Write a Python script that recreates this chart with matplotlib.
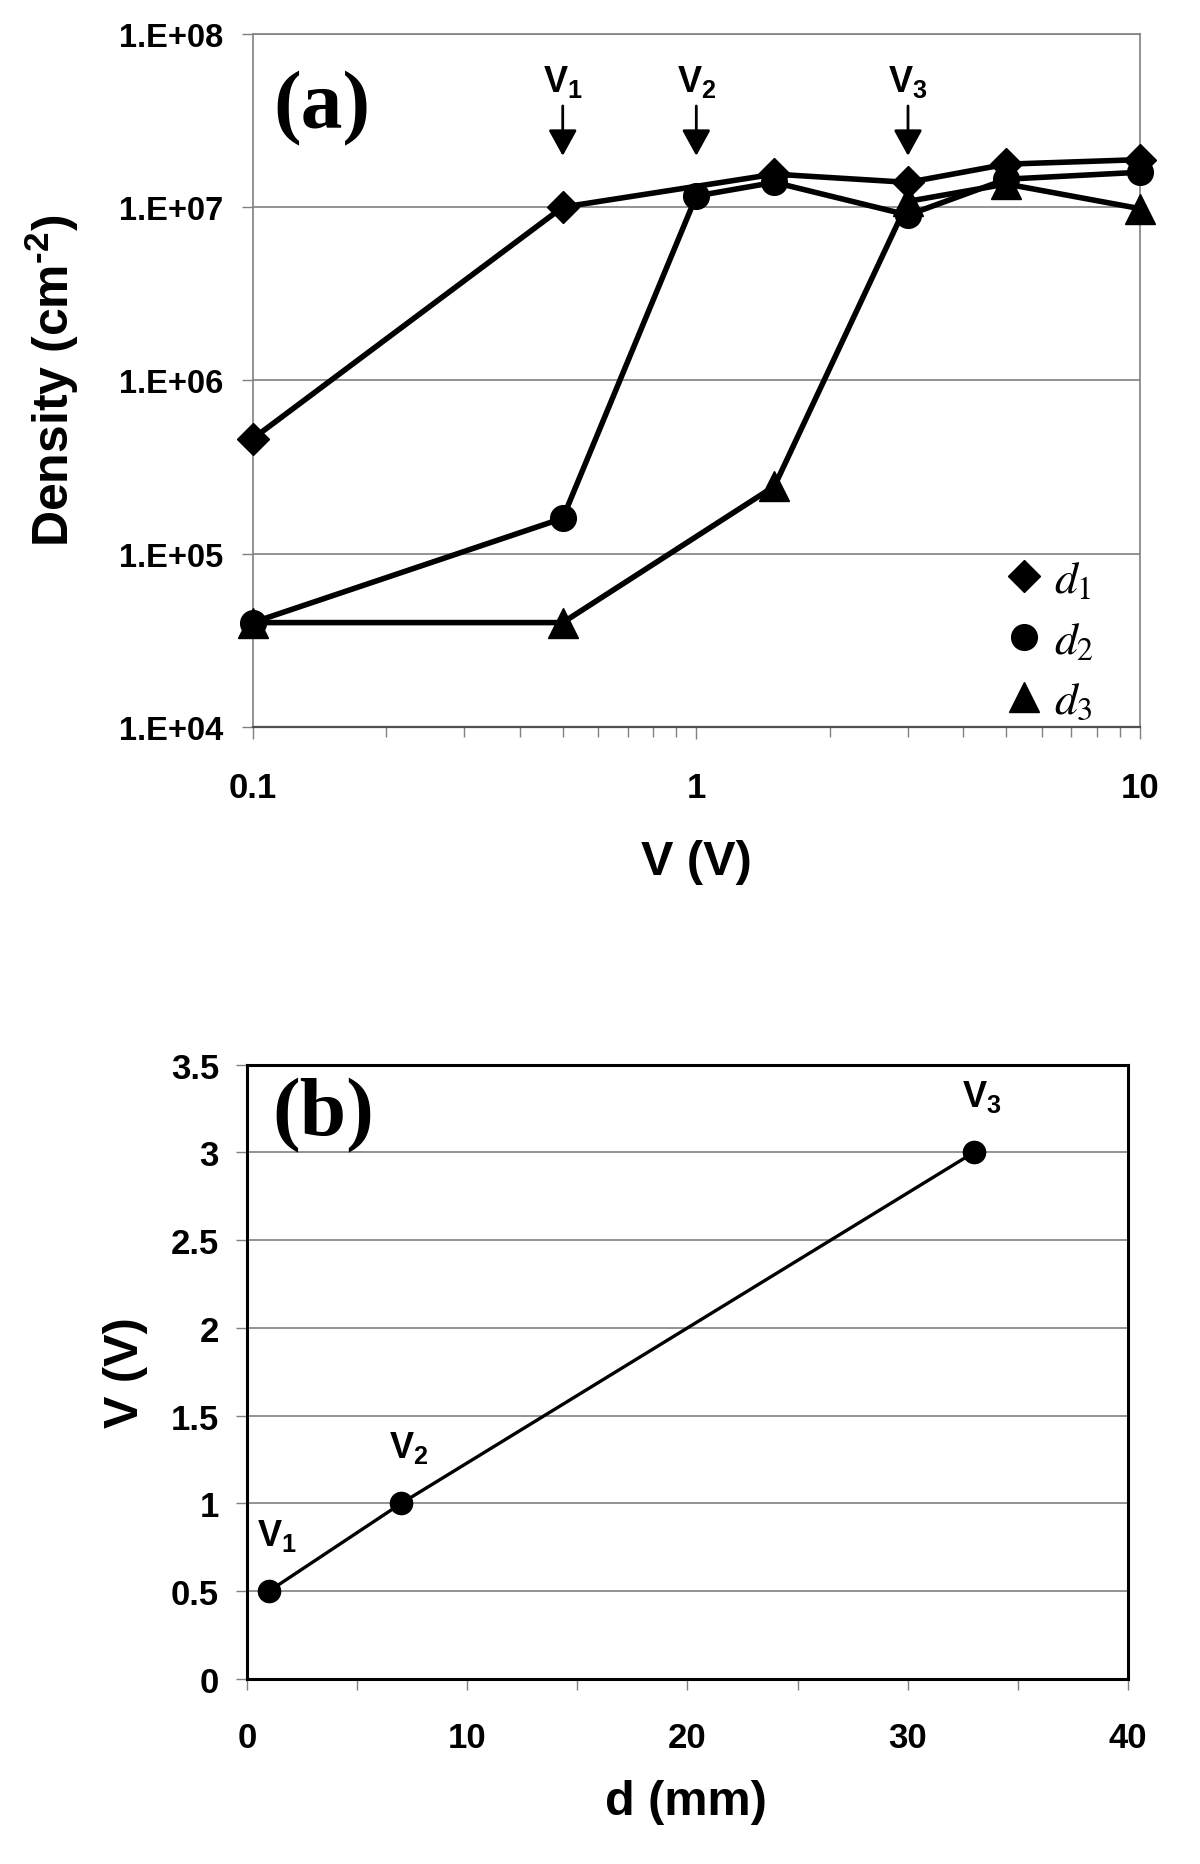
import numpy as np
import matplotlib
matplotlib.use('Agg')
import matplotlib.pyplot as plt
import matplotlib.ticker as mt
from matplotlib.lines import Line2D
from matplotlib.font_manager import FontProperties

plt.rcParams['font.family'] = ['Liberation Sans', 'DejaVu Sans']
plt.rcParams['font.weight'] = 'normal'
plt.rcParams['mathtext.fontset'] = 'custom'
plt.rcParams['mathtext.rm'] = 'Liberation Sans:bold'
plt.rcParams['mathtext.it'] = 'Liberation Sans:bold'
plt.rcParams['mathtext.bf'] = 'Liberation Sans:bold'
plt.rcParams['mathtext.sf'] = 'Liberation Sans:bold'

# ---------------- data ----------------
# panel (a): density vs applied voltage
d1_v = [0.1, 0.5, 1.5, 3, 5, 10]
d1_n = [4.6e5, 1.0e7, 1.55e7, 1.39e7, 1.77e7, 1.88e7]
d2_v = [0.1, 0.5, 1, 1.5, 3, 5, 10]
d2_n = [4.0e4, 1.6e5, 1.16e7, 1.39e7, 9.0e6, 1.45e7, 1.59e7]
d3_v = [0.1, 0.5, 1.5, 3, 5, 10]
d3_n = [4.0e4, 4.0e4, 2.45e5, 1.08e7, 1.36e7, 9.8e6]
legend_labels = ['$d_1$', '$d_2$', '$d_3$']

# panel (b): threshold voltage vs distance
d_mm = [1, 7, 33]
v_thr = [0.5, 1.0, 3.0]
thr_labels = ['$V_1$', '$V_2$', '$V_3$']

y_ticks_a = [1e4, 1e5, 1e6, 1e7, 1e8]
y_ticklabels_a = ['1.E+04', '1.E+05', '1.E+06', '1.E+07', '1.E+08']
x_ticks_a = [0.1, 1, 10]
x_ticklabels_a = ['0.1', '1', '10']
x_minor_a = [0.2, 0.3, 0.4, 0.5, 0.6, 0.7, 0.8, 0.9, 2, 3, 4, 5, 6, 7, 8, 9]
x_ticks_b = [0, 10, 20, 30, 40]
x_ticklabels_b = ['0', '10', '20', '30', '40']
x_minor_b = [5, 15, 25, 35]
y_ticks_b = [0, 0.5, 1, 1.5, 2, 2.5, 3, 3.5]
y_ticklabels_b = ['0', '0.5', '1', '1.5', '2', '2.5', '3', '3.5']

GRAY = '#808080'
B = 'bold'

fig = plt.figure(figsize=(12, 18.65), dpi=100)

# ---------------- panel (a) ----------------
ax = fig.add_axes([0.2105, 0.6097, 0.7395, 0.3716])
ax.set_xscale('log')
ax.set_yscale('log')

lw = 4.0
ax.plot(d1_v, d1_n, color='black', lw=lw, marker='D', ms=16, clip_on=False, zorder=5)
ax.plot(d2_v, d2_n, color='black', lw=lw, marker='o', ms=18.5, clip_on=False, zorder=5)
ax.plot(d3_v, d3_n, color='black', lw=lw, marker='^', ms=21, clip_on=False, zorder=5)

ax.set_yticks(y_ticks_a, y_ticklabels_a, fontweight=B, fontsize=23.5)
ax.set_yticks([], minor=True)
ax.set_xticks(x_ticks_a, x_ticklabels_a, fontweight=B, fontsize=25)
ax.set_xticks(x_minor_a, minor=True)
ax.xaxis.set_minor_formatter(mt.NullFormatter())
ax.set_xlim(0.1, 10)
ax.set_ylim(1e4, 1e8)

ax.grid(axis='y', which='major', color=GRAY, lw=1.2)
ax.set_axisbelow(True)
for s in ['left', 'top', 'right']:
    ax.spines[s].set_color(GRAY)
    ax.spines[s].set_linewidth(1.2)
ax.spines['bottom'].set_color('#505050')
ax.spines['bottom'].set_linewidth(1.6)

ax.tick_params(axis='y', which='major', direction='out', length=8, width=1,
               color=GRAY, pad=13)
ax.tick_params(axis='x', which='major', direction='out', length=8.5, width=1,
               color=GRAY, pad=23)
ax.tick_params(axis='x', which='minor', direction='out', length=7, width=1,
               color=GRAY)

# threshold arrows
for xv, lab in zip(v_thr, thr_labels):
    ax.annotate('', xy=(xv, 0.824), xytext=(xv, 0.896),
                xycoords=('data', 'axes fraction'),
                textcoords=('data', 'axes fraction'),
                arrowprops=dict(arrowstyle='-|>,head_length=0.4,head_width=0.22',
                                color='black', lw=2, mutation_scale=40,
                                shrinkA=0, shrinkB=0))
    ax.text(xv, 0.918, lab, transform=ax.get_xaxis_transform(), ha='center',
            va='baseline', fontsize=26)

ax.text(0.023, 0.893, '(a)', transform=ax.transAxes, ha='left', va='center',
        fontsize=60, fontweight=B, family='Liberation Serif')

handles = [Line2D([], [], color='black', marker=m, ms=s, ls='none')
           for m, s in zip(['D', 'o', '^'], [16, 18.5, 21])]
leg_font = FontProperties(family='Liberation Serif', size=33, weight='normal',
                          math_fontfamily='stix')
ax.legend(handles, legend_labels, loc='lower right', bbox_to_anchor=(0.948, 0.005),
          frameon=False, prop=leg_font, handlelength=0.7, handletextpad=0.3,
          labelspacing=0.4, borderpad=0, borderaxespad=0)

fig.text(52 / 1200, 1 - 381 / 1865, 'Density (cm$^{\u20102}$)', rotation=90,
         ha='center', va='center', fontsize=36, fontweight=B)
fig.text(696 / 1200, 1 - 875 / 1865, 'V (V)', ha='center', va='baseline',
         fontsize=35, fontweight=B)

# ---------------- panel (b) ----------------
bx = fig.add_axes([0.2057, 0.0992, 0.7343, 0.3294])
bx.plot(d_mm, v_thr, color='black', lw=2.4, marker='o', ms=16, clip_on=False, zorder=5)
for xv, yv, lab in zip(d_mm, v_thr, thr_labels):
    bx.annotate(lab, xy=(xv, yv), xytext=(-12, 46), textcoords='offset pixels',
                ha='left', va='baseline', fontsize=26)

bx.set_xticks(x_ticks_b, x_ticklabels_b, fontweight=B, fontsize=25)
bx.set_xticks(x_minor_b, minor=True)
bx.set_yticks(y_ticks_b, y_ticklabels_b, fontweight=B, fontsize=25)
bx.set_xlim(0, 40)
bx.set_ylim(0, 3.5)
bx.grid(axis='y', which='major', color=GRAY, lw=1.2)
bx.set_axisbelow(True)
for s in bx.spines.values():
    s.set_color('black')
    s.set_linewidth(2.2)
bx.tick_params(axis='y', which='major', direction='out', length=8, width=1,
               color=GRAY, pad=12)
bx.tick_params(axis='x', which='both', direction='out', length=8, width=1,
               color=GRAY, pad=22)

bx.text(0.0286, 0.918, '(b)', transform=bx.transAxes, ha='left', va='center',
        fontsize=60, fontweight=B, family='Liberation Serif')

fig.text(126 / 1200, 1 - 1373 / 1865, 'V (V)', rotation=90, ha='center', va='center',
         fontsize=35, fontweight=B)
fig.text(686 / 1200, 50 / 1865, 'd (mm)', ha='center', va='baseline',
         fontsize=35, fontweight=B)

fig.savefig('out.png', dpi=100)
